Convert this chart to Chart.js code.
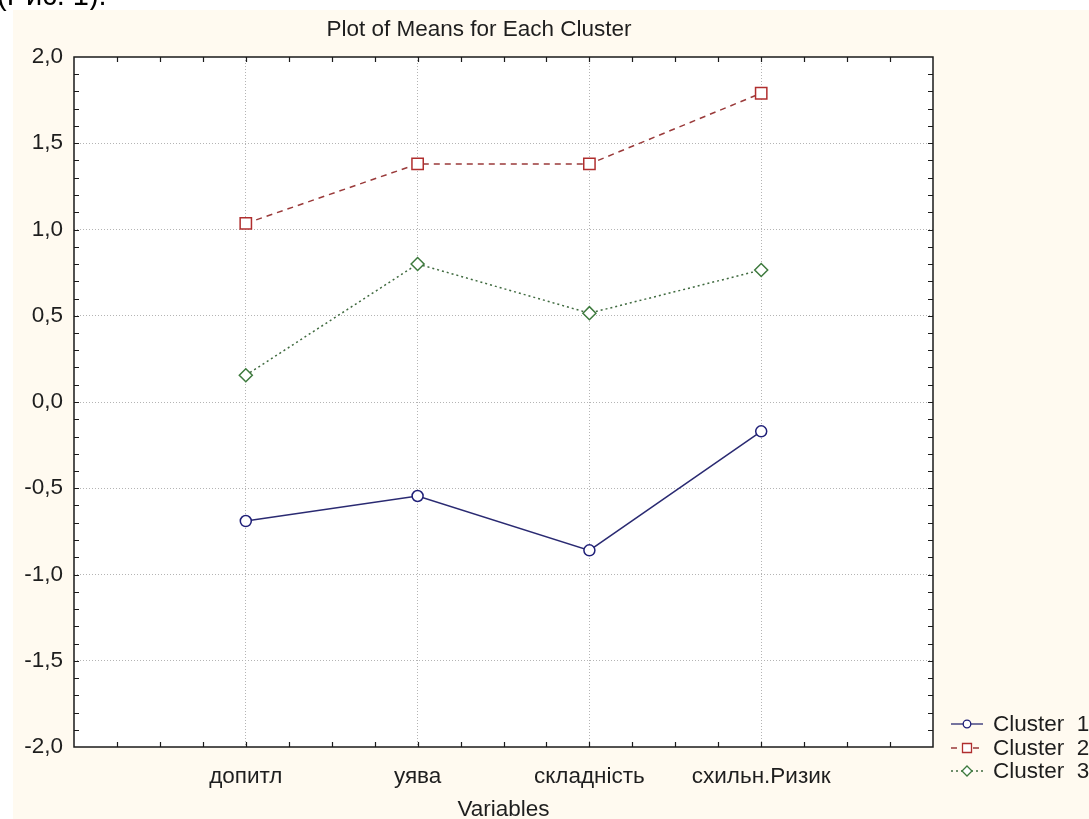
<!DOCTYPE html>
<html>
<head>
<meta charset="utf-8">
<script src="https://cdn.jsdelivr.net/npm/chart.js@4.4.1/dist/chart.umd.min.js"></script>
<style>
html,body{margin:0;padding:0;background:#fff;}
#wrap{width:1089px;height:819px;position:relative;}
</style>
</head>
<body>
<div id="wrap"><canvas id="c" width="1089" height="819"></canvas></div>
<script>
const chartTitle = 'Plot of Means for Each Cluster';
const xAxisTitle = 'Variables';
const categories = ['допитл', 'уява', 'складність', 'схильн.Ризик'];
const seriesNames = ['Cluster  1', 'Cluster  2', 'Cluster  3'];
const cluster1 = [-0.69, -0.545, -0.86, -0.17];
const cluster2 = [1.035, 1.38, 1.38, 1.79];
const cluster3 = [0.155, 0.80, 0.515, 0.765];
const yMin = -2.0, yMax = 2.0, yStep = 0.5;

const FONT = '"Liberation Sans", Arial, sans-serif';
const TXT = '#1e1e1e';
const FS = 22.5;

function toPoints(arr){ return arr.map((v,i)=>({x:i+1, y:v})); }

const bgPlugin = {
  id:'bg',
  beforeDraw(chart){
    const ctx = chart.ctx, a = chart.chartArea;
    ctx.save();
    ctx.fillStyle = '#ffffff';
    ctx.fillRect(0,0,chart.width,chart.height);
    ctx.fillStyle = '#000';
    ctx.font = '29px ' + FONT;
    ctx.textBaseline = 'alphabetic';
    ctx.fillText('(Рис. 1).', -3, 5);
    ctx.fillStyle = '#fffaf0';
    ctx.fillRect(13,10,chart.width-13,chart.height-10);
    ctx.fillStyle = '#ffffff';
    ctx.fillRect(a.left,a.top,a.right-a.left,a.bottom-a.top);
    ctx.restore();
  },
  afterDatasetsDraw(chart){
    const ctx = chart.ctx, a = chart.chartArea;
    const xs = chart.scales.x, ys = chart.scales.y;
    ctx.save();
    ctx.setLineDash([]);
    ctx.strokeStyle = '#1a1a1a';
    ctx.lineWidth = 1.5;
    ctx.strokeRect(a.left, a.top, a.right-a.left, a.bottom-a.top);
    ctx.lineWidth = 1.2;
    ctx.beginPath();
    const TL = 5;
    for (let k=1;k<20;k++){
      const px = Math.round(xs.getPixelForValue(k*0.25))+0.5;
      ctx.moveTo(px, a.bottom); ctx.lineTo(px, a.bottom-TL);
      ctx.moveTo(px, a.top); ctx.lineTo(px, a.top+TL);
    }
    for (let k=1;k<40;k++){
      const py = Math.round(ys.getPixelForValue(yMin + k*0.1))+0.5;
      ctx.moveTo(a.left, py); ctx.lineTo(a.left+TL, py);
      ctx.moveTo(a.right, py); ctx.lineTo(a.right-TL, py);
    }
    ctx.stroke();
    // title
    ctx.fillStyle = TXT;
    ctx.font = FS + 'px ' + FONT;
    ctx.textAlign = 'center';
    ctx.textBaseline = 'middle';
    ctx.fillText(chartTitle, 479, 30);
    ctx.fillText(xAxisTitle, (a.left+a.right)/2, 810);
    // legend
    const rows = [724, 748, 771];
    chart.data.datasets.forEach((ds, i) => {
      const y = rows[i];
      ctx.save();
      ctx.strokeStyle = ds.borderColor;
      ctx.lineWidth = 1.3;
      ctx.setLineDash(ds.borderDash || []);
      ctx.beginPath(); ctx.moveTo(951, y); ctx.lineTo(983, y); ctx.stroke();
      ctx.setLineDash([]);
      ctx.fillStyle = '#fff';
      ctx.strokeStyle = ds.pointBorderColor;
      ctx.beginPath();
      const cx = 967;
      if (ds.pointStyle === 'circle') ctx.arc(cx, y, 3.8, 0, Math.PI*2);
      else if (ds.pointStyle === 'rect') ctx.rect(cx-4.5, y-4.5, 9, 9);
      else { ctx.moveTo(cx, y-5); ctx.lineTo(cx+5, y); ctx.lineTo(cx, y+5); ctx.lineTo(cx-5, y); ctx.closePath(); }
      ctx.fill(); ctx.stroke();
      ctx.restore();
      ctx.fillStyle = TXT;
      ctx.textAlign = 'left';
      ctx.font = FS + 'px ' + FONT;
      ctx.fillText(ds.label, 993, y+1);
    });
    ctx.restore();
  }
};

new Chart(document.getElementById('c'), {
  type:'line',
  data:{
    datasets:[
      {label:seriesNames[0], data:toPoints(cluster1), borderColor:'#2a2a72', borderWidth:1.5,
       pointStyle:'circle', pointRadius:5.5, pointBorderColor:'#1f1f78', pointBackgroundColor:'#fff', pointBorderWidth:1.5},
      {label:seriesNames[1], data:toPoints(cluster2), borderColor:'#9a3a3a', borderWidth:1.5, borderDash:[6,5],
       pointStyle:'rect', pointRadius:8, pointBorderColor:'#b02e2e', pointBackgroundColor:'#fff', pointBorderWidth:1.5},
      {label:seriesNames[2], data:toPoints(cluster3), borderColor:'#3f6a3f', borderWidth:1.5, borderDash:[2,3],
       pointStyle:'rectRot', pointRadius:6.5, pointBorderColor:'#3d7a3d', pointBackgroundColor:'#fff', pointBorderWidth:1.5}
    ]
  },
  options:{
    responsive:false, animation:false,
    layout:{padding:{left:0, top:57, right:156, bottom:0}},
    plugins:{legend:{display:false}, title:{display:false}, tooltip:{enabled:false}},
    elements:{line:{tension:0}},
    scales:{
      x:{type:'linear', min:0, max:5,
        afterFit(s){ s.height = 72; },
        ticks:{stepSize:1, autoSkip:false, maxRotation:0, padding:16, color:TXT,
          font:{family:FONT, size:FS},
          callback:(v)=> (v>=1 && v<=categories.length && Number.isInteger(v)) ? categories[v-1] : ''},
        grid:{drawTicks:false, lineWidth:1,
          color:(c)=> (c.tick && c.tick.value>=1 && c.tick.value<=4) ? '#b4b4b4' : 'rgba(0,0,0,0)'},
        border:{display:false, dash:[1,2]}
      },
      y:{type:'linear', min:yMin, max:yMax,
        afterFit(s){ s.width = 74; },
        ticks:{stepSize:yStep, padding:11, color:TXT, font:{family:FONT, size:FS},
          callback:(v)=> Number(v).toFixed(1).replace('.', ',')},
        grid:{drawTicks:false, lineWidth:1,
          color:(c)=> (c.tick && c.tick.value>yMin+1e-9 && c.tick.value<yMax-1e-9) ? '#b4b4b4' : 'rgba(0,0,0,0)'},
        border:{display:false, dash:[1,2]}
      }
    }
  },
  plugins:[bgPlugin]
});
</script>
</body>
</html>
